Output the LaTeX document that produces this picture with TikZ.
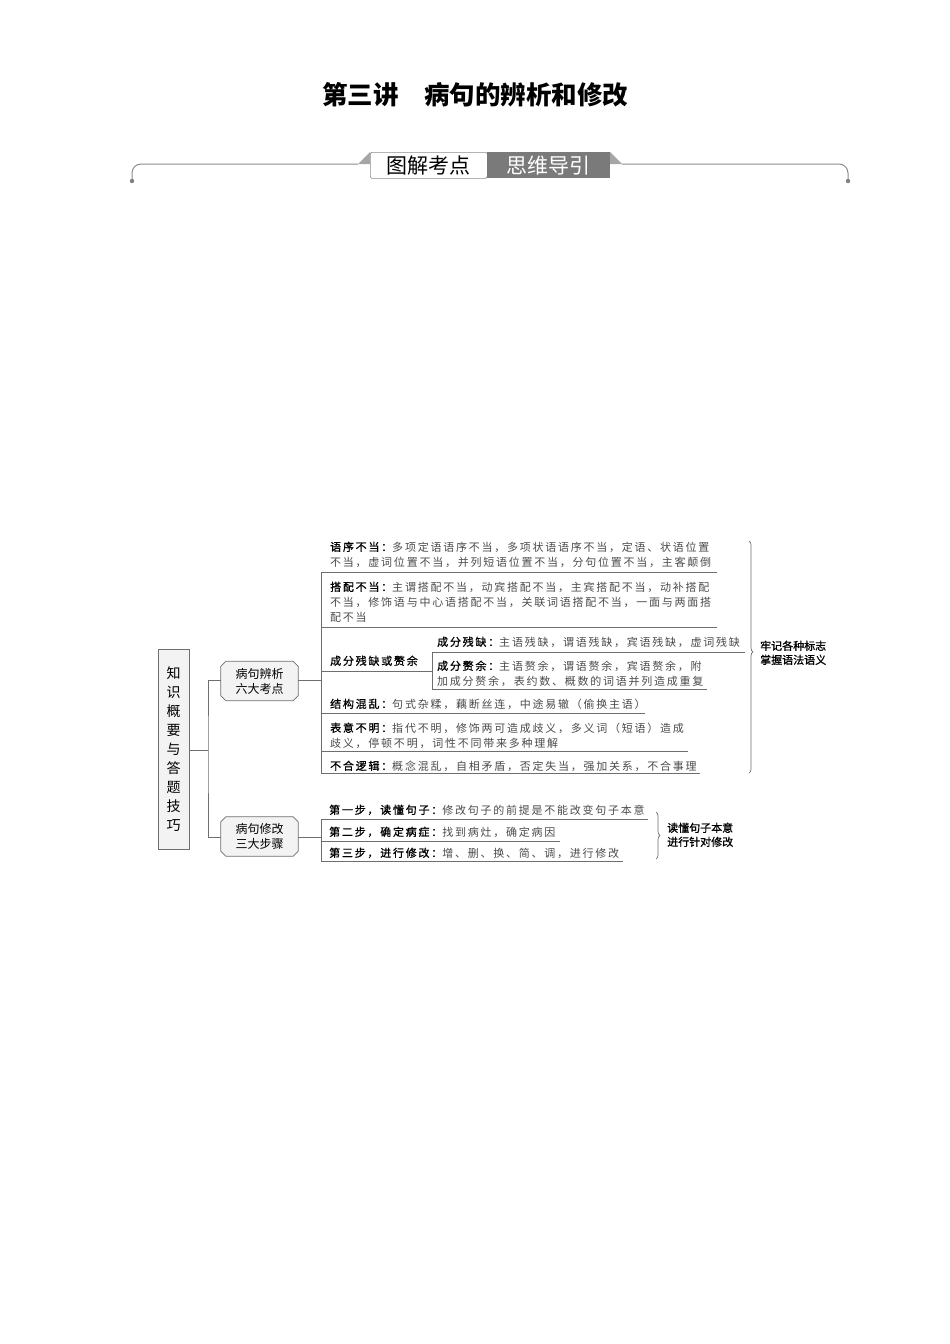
\documentclass[tikz,border=0pt]{standalone}
\usepackage{fontspec}
\setmainfont{Noto Sans CJK SC}
\newfontfamily\desc[LetterSpace=16]{Noto Sans CJK SC}
\newfontfamily\descb[LetterSpace=16,FakeBold=1]{Noto Sans CJK SC}
\newfontfamily\lblb[FakeBold=0.8]{Noto Sans CJK SC}
\usetikzlibrary{decorations.pathreplacing,backgrounds}
\definecolor{linec}{HTML}{6E6E6E}
\definecolor{desccol}{HTML}{4A4A4A}
\definecolor{tabgray}{HTML}{7A7A7A}
\definecolor{boxfill}{HTML}{F3F3F3}
\newcommand\lb[1]{{\descb\color{black}#1}}
\tikzset{
  ln/.style={draw=linec,line width=0.7pt},
  itm/.style={anchor=base west,inner sep=0pt,font=\desc\fontsize{11pt}{13pt}\selectfont,text=desccol},
  side/.style={anchor=base west,inner sep=0pt,font=\lblb\fontsize{11pt}{14pt}\selectfont,text=black},
  chbox/.style={rectangle,minimum width=77pt,minimum height=39pt,inner sep=0pt,align=center,font=\fontsize{12pt}{15pt}\selectfont},
  brc/.style={draw=linec,line width=0.7pt,decorate,decoration={brace,amplitude=4pt}}
}
\newcommand\chamf[1]{%
  \begin{scope}[on background layer]
  \draw[ln,fill=boxfill] ([xshift=5pt]#1.north west) -- ([xshift=-5pt]#1.north east) -- ([yshift=-5pt]#1.north east) -- ([yshift=5pt]#1.south east) -- ([xshift=-5pt]#1.south east) -- ([xshift=5pt]#1.south west) -- ([yshift=5pt]#1.south west) -- ([yshift=-5pt]#1.north west) -- cycle;
  \end{scope}}
\begin{document}
\begin{tikzpicture}[x=1pt,y=-1pt]
\useasboundingbox (0,0) rectangle (950,1344);
% title
\node[font=\bfseries\fontsize{25.5pt}{30pt}\selectfont,inner sep=0pt] (title) at (475,95) {第三讲　病句的辨析和修改};
% banner
\draw[ln,draw=black!45,line width=1pt] (358,164) -- (141,164) to[out=180,in=90] (132,173) -- (132,179);
\draw[ln,draw=black!45,line width=1pt] (622,164) -- (839,164) to[out=0,in=90] (848,173) -- (848,179);
\fill[black!50] (132,181) circle (2.2);
\fill[black!50] (848,181) circle (2.2);
\fill[black!35] (358,164) -- (370,152) -- (370,164) -- cycle;
\fill[black!35] (622,164) -- (610,152) -- (610,164) -- cycle;
\node[draw=black!45,fill=white,line width=0.7pt,rounded corners=1.5pt,minimum width=117pt,minimum height=26pt,inner sep=0pt,anchor=north west,font=\fontsize{21pt}{24pt}\selectfont] (tabA) at (370,152) {图解考点};
\node[fill=tabgray,minimum width=123pt,minimum height=26pt,inner sep=0pt,anchor=north west,text=white,font=\fontsize{21pt}{24pt}\selectfont] (tabB) at (487,152) {思维导引};
% root and branch boxes
\node[draw=linec,fill=boxfill,line width=0.7pt,minimum width=31pt,minimum height=200pt,inner sep=0pt,align=center,font=\fontsize{14pt}{19pt}\selectfont] (root) at (173.5,749) {知\\识\\概\\要\\与\\答\\题\\技\\巧};
\node[chbox] (b1) at (259.5,681) {病句辨析\\六大考点};
\chamf{b1}
\node[chbox] (b2) at (259.5,836.5) {病句修改\\三大步骤};
\chamf{b2}
\coordinate (j) at (208,750);
\draw[ln] (root.east |- j) -- (j);
\draw[ln] (b1.west |- 0,680) -| (j) |- (b2.west |- 0,837);
% group 1
\coordinate (v1top) at (321,572);
\coordinate (v1bot) at (321,773);
\draw[ln] (b1.east |- 0,680) -- (321,680);
\draw[ln] (v1top) -- (v1bot);
\node[itm] (l1a) at (330,551) {\lb{语序不当：}多项定语语序不当，多项状语语序不当，定语、状语位置};
\node[itm] (l1b) at (330,566) {不当，虚词位置不当，并列短语位置不当，分句位置不当，主客颠倒};
\draw[ln] (v1top) -- (717,572);
\node[itm] (l2a) at (330,591) {\lb{搭配不当：}主谓搭配不当，动宾搭配不当，主宾搭配不当，动补搭配};
\node[itm] (l2b) at (330,606) {不当，修饰语与中心语搭配不当，关联词语搭配不当，一面与两面搭};
\node[itm] (l2c) at (330,621) {配不当};
\draw[ln] (321,627) -- (717,627);
\node[itm] (l3) at (330,665) {\lb{成分残缺或赘余}};
\draw[ln] (321,671) -- (432,671);
\draw[ln] (432,652) -- (432,689);
\node[itm] (l3a) at (437,646) {\lb{成分残缺：}主语残缺，谓语残缺，宾语残缺，虚词残缺};
\draw[ln] (432,652) -- (745,652);
\node[itm] (l3b) at (437,670) {\lb{成分赘余：}主语赘余，谓语赘余，宾语赘余，附};
\node[itm] (l3c) at (437,685) {加成分赘余，表约数、概数的词语并列造成重复};
\draw[ln] (432,689) -- (707,689);
\node[itm] (l4) at (330,708) {\lb{结构混乱：}句式杂糅，藕断丝连，中途易辙（偷换主语）};
\draw[ln] (321,713) -- (645,713);
\node[itm] (l5a) at (330,732) {\lb{表意不明：}指代不明，修饰两可造成歧义，多义词（短语）造成};
\node[itm] (l5b) at (330,747) {歧义，停顿不明，词性不同带来多种理解};
\draw[ln] (321,751) -- (688,751);
\node[itm] (l6) at (330,770) {\lb{不合逻辑：}概念混乱，自相矛盾，否定失当，强加关系，不合事理};
\draw[ln] (v1bot) -- (700,773);
\draw[brc,decoration={brace,amplitude=4pt,aspect=0.478}] (749,541) -- (749,773);
\node[side] (r1a) at (760,650) {牢记各种标志};
\node[side] (r1b) at (760,664) {掌握语法语义};
% group 2
\coordinate (v2top) at (321,819);
\coordinate (v2bot) at (321,861);
\draw[ln] (b2.east |- 0,837) -- (321,837);
\draw[ln] (v2top) -- (v2bot);
\node[itm] (s1) at (329,814) {\lb{第一步，读懂句子：}修改句子的前提是不能改变句子本意};
\draw[ln] (v2top) -- (648,819);
\node[itm] (s2) at (329,836) {\lb{第二步，确定病症：}找到病灶，确定病因};
\draw[ln] (321,841) -- (560,841);
\node[itm] (s3) at (329,857) {\lb{第三步，进行修改：}增、删、换、简、调，进行修改};
\draw[ln] (v2bot) -- (623,861);
\draw[brc] (656,812) -- (656,859);
\node[side] (r2a) at (667,832) {读懂句子本意};
\node[side] (r2b) at (667,846) {进行针对修改};
\end{tikzpicture}
\end{document}
